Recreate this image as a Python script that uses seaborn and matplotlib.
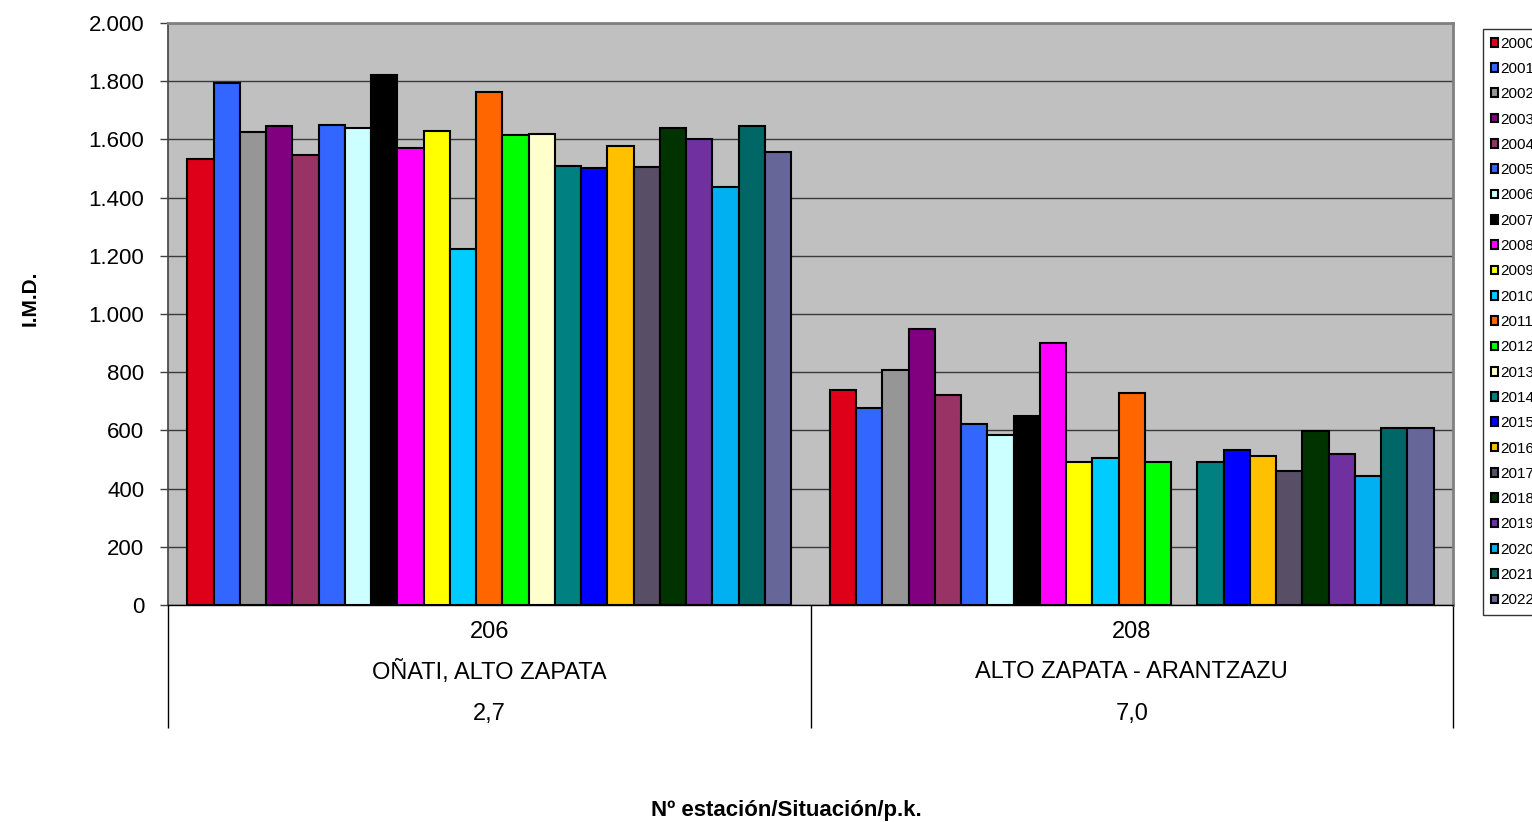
import pandas as pd
import numpy as np
from matplotlib import pyplot as plt
from matplotlib.ticker import FuncFormatter
import seaborn as sns

sns.set_style('white')
plt.rcParams['font.family'] = ['Liberation Sans', 'DejaVu Sans']
plt.rcParams['text.color'] = 'black'
plt.rcParams['ytick.color'] = 'black'

# Data
stations = ['206', '208']
places = ['OÑATI, ALTO ZAPATA', 'ALTO ZAPATA - ARANTZAZU']
pks = ['2,7', '7,0']
years = [str(y) for y in range(2000, 2023)]

imd_206 = [1531, 1795, 1627, 1645, 1547, 1651, 1638, 1822, 1572, 1630, 1224, 1763,
           1615, 1620, 1509, 1500, 1578, 1506, 1640, 1602, 1437, 1645, 1555]
imd_208 = [740, 677, 806, 948, 721, 622, 585, 648, 900, 490, 506, 729,
           490, np.nan, 490, 531, 511, 459, 598, 519, 442, 608, 609]

colors = ['#DD0018', '#3366FF', '#969696', '#800080', '#993366', '#3366FF',
          '#CCFFFF', '#000000', '#FF00FF', '#FFFF00', '#00CCFF', '#FF6600',
          '#00FF00', '#FFFFCC', '#008080', '#0000FF', '#FFC000', '#584F66',
          '#003300', '#7030A0', '#00B0F0', '#006666', '#666699']

df = pd.DataFrame({
    'station': [stations[0]] * len(years) + [stations[1]] * len(years),
    'year': years * 2,
    'imd': imd_206 + imd_208,
}).dropna()

fig = plt.figure(figsize=(15.32, 8.22), dpi=100)
ax = fig.add_axes([168 / 1532, 1 - 605 / 822, 1285 / 1532, 582 / 822])

sns.barplot(data=df, x='station', y='imd', hue='year', order=stations,
            hue_order=years, palette=colors, saturation=1, width=0.94,
            edgecolor='black', linewidth=1.5, ax=ax, legend=False, zorder=3)

ax.set_facecolor('#C0C0C0')
ax.set_xlim(-0.5, 1.5)
ax.set_ylim(0, 2000)
ax.set_yticks(range(0, 2001, 200))
ax.yaxis.set_major_formatter(FuncFormatter(lambda v, p: f'{int(v):,}'.replace(',', '.')))
ax.tick_params(axis='y', labelsize=16, length=6, width=1, pad=11, left=True,
               color='#404040', labelcolor='black')
ax.grid(axis='y', color='#3a3a3a', linewidth=1, zorder=1)
ax.set_axisbelow(True)
ax.set_xticks([])
ax.set_xlabel('')
ax.set_ylabel('')
for s in ['top', 'right']:
    ax.spines[s].set_color('#808080')
    ax.spines[s].set_linewidth(2)
ax.spines['left'].set_color('#404040')
ax.spines['left'].set_linewidth(1.2)
ax.spines['bottom'].set_color('black')
ax.spines['bottom'].set_linewidth(1)

# multi-level category axis
ax.vlines([-0.5, 0.5, 1.5], -123 / 582, 0, transform=ax.get_xaxis_transform(),
          colors='black', linewidth=1, clip_on=False)
for i in range(len(stations)):
    cx = (168 + 642.5 * (i + 0.5)) / 1532
    fig.text(cx, 1 - 632 / 822, stations[i], ha='center', va='center', fontsize=17)
    fig.text(cx, 1 - 672 / 822, places[i], ha='center', va='center', fontsize=17)
    fig.text(cx, 1 - 714 / 822, pks[i], ha='center', va='center', fontsize=17)

fig.text(786 / 1532, 1 - 810 / 822, 'Nº estación/Situación/p.k.', ha='center',
         va='center', fontsize=16, fontweight='bold')
fig.text(30 / 1532, 1 - 298 / 822, 'I.M.D.', ha='center', va='center',
         rotation=90, fontsize=15, fontweight='bold')

handles = [plt.Rectangle((0, 0), 1, 1, facecolor=c, edgecolor='black', linewidth=1.5)
           for c in colors]
leg = fig.legend(handles, years, loc='upper left',
                 bbox_to_anchor=(1483 / 1532, 1 - 29 / 822), borderaxespad=0,
                 fontsize=11, handlelength=0.5, handleheight=0.5,
                 handletextpad=0.12, labelspacing=0.74, borderpad=0.5,
                 frameon=True, fancybox=False)
leg.get_frame().set_edgecolor('black')
leg.get_frame().set_linewidth(1)

plt.savefig('out.png', dpi=100)
